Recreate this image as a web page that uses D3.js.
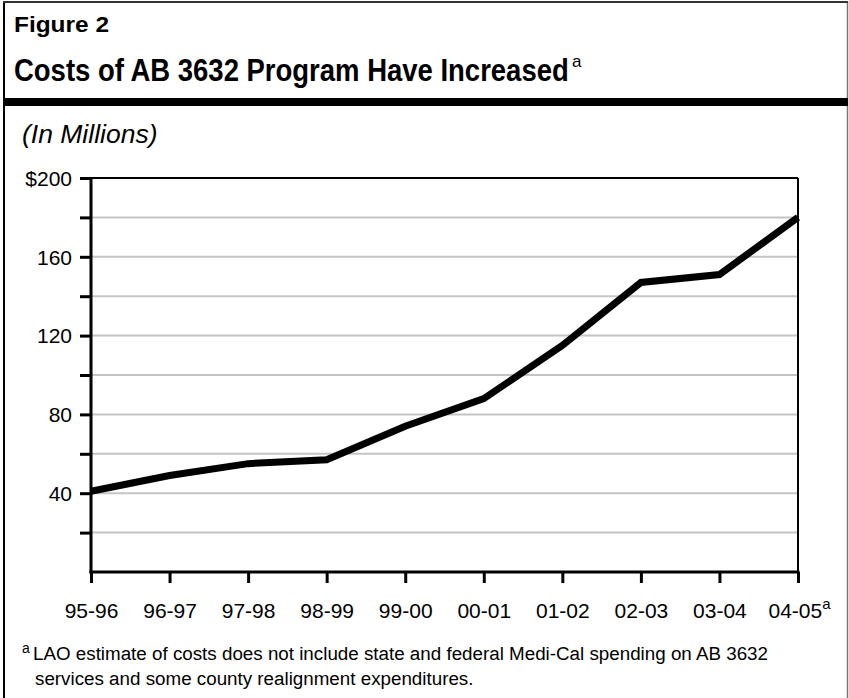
<!DOCTYPE html>
<html><head><meta charset="utf-8">
<script src="https://cdn.jsdelivr.net/npm/d3@7"></script>
<style>body{margin:0;background:#fff}svg{display:block}text{font-family:"Liberation Sans",Arial,Helvetica,sans-serif}</style>
</head><body>
<script>
const categories = ["95-96","96-97","97-98","98-99","99-00","00-01","01-02","02-03","03-04","04-05"];
const costs = [41, 49, 55, 57, 74, 88, 115, 147, 151, 180];
const yLabelTicks = [40, 80, 120, 160, 200];
const yAllTicks = [20, 40, 60, 80, 100, 120, 140, 160, 180, 200];
const gridTicks = [20, 40, 60, 80, 100, 120, 140, 160, 180];

const W = 849, H = 698;
const FONT = "Liberation Sans, Arial, sans-serif";
const svg = d3.select("body").append("svg").attr("width", W).attr("height", H);

// frame
svg.append("line").attr("x1",4).attr("x2",4).attr("y1",1).attr("y2",H).attr("stroke","#000").attr("stroke-width",2);
svg.append("line").attr("x1",847.5).attr("x2",847.5).attr("y1",1).attr("y2",H).attr("stroke","#777").attr("stroke-width",1.5);
svg.append("line").attr("x1",3).attr("x2",848).attr("y1",2).attr("y2",2).attr("stroke","#333").attr("stroke-width",2);
svg.append("rect").attr("x",3).attr("y",98).attr("width",845).attr("height",8).attr("fill","#000");

function fitText(txt, x0, y0, size, targetW) {
  const el = svg.append("text").attr("font-size", size).attr("font-weight","bold").text(txt);
  const w = el.node().getComputedTextLength();
  el.attr("transform", `translate(${x0},${y0}) scale(${targetW / w},1)`);
  return el;
}
fitText("Figure 2", 14, 32, 22, 95);
fitText("Costs of AB 3632 Program Have Increased", 14, 81, 32, 555);
svg.append("text").attr("x",572).attr("y",67).attr("font-size",17).text("a");

svg.append("text").attr("x",22).attr("y",143).attr("font-size",26.5).attr("font-style","italic").text("(In Millions)");

const x = d3.scalePoint().domain(categories).range([91, 798]);
const y = d3.scaleLinear().domain([0, 200]).range([572, 178]);

// gridlines
svg.append("g").selectAll("line").data(gridTicks).join("line")
  .attr("x1", 91).attr("x2", 798).attr("y1", d => y(d)).attr("y2", d => y(d))
  .attr("stroke", "#c4c4c4").attr("stroke-width", 2);

// plot frame top/right
svg.append("line").attr("x1",91).attr("x2",798).attr("y1",y(200)).attr("y2",y(200)).attr("stroke","#000").attr("stroke-width",2);
svg.append("line").attr("x1",798).attr("x2",798).attr("y1",y(200)).attr("y2",y(0)).attr("stroke","#000").attr("stroke-width",2);

// y axis
const yAxis = d3.axisLeft(y).tickValues(yAllTicks).tickSize(11)
  .tickFormat(d => yLabelTicks.includes(d) ? (d === 200 ? "$200" : String(d)) : "");
const gy = svg.append("g").attr("transform","translate(91,0)").call(yAxis);
gy.select(".domain").attr("stroke-width",3).attr("d", `M0,${y(200)-1}V${y(0)+1.5}`);
gy.selectAll(".tick line").attr("stroke-width",3);
gy.selectAll(".tick text").attr("font-size",21).attr("font-family",FONT).attr("fill","#000").attr("x",-19).attr("dy","0.35em");

// x axis
const xAxis = d3.axisBottom(x).tickSize(11).tickFormat(d => d);
const gx = svg.append("g").attr("transform",`translate(0,${y(0)})`).call(xAxis);
gx.select(".domain").attr("stroke-width",3).attr("d", `M89.5,0H799.5`);
gx.selectAll(".tick line").attr("stroke-width",3);
gx.selectAll(".tick text").attr("font-size",21).attr("font-family",FONT).attr("fill","#000").attr("y",46).attr("dy",0)
  .each(function(d){ if (d === "04-05") { d3.select(this).attr("text-anchor","start").attr("x",-30); d3.select(this).append("tspan").attr("font-size",15).attr("dy",-9).text("a"); } });

// line
const line = d3.line().x((d,i) => x(categories[i])).y(d => y(d));
svg.append("path").datum(costs).attr("d", line).attr("fill","none").attr("stroke","#000").attr("stroke-width",7).attr("stroke-linejoin","miter");

// footnote
svg.append("text").attr("x",22).attr("y",653).attr("font-size",14).text("a");
svg.append("text").attr("x",33).attr("y",660).attr("font-size",18.8)
  .text("LAO estimate of costs does not include state and federal Medi-Cal spending on AB 3632");
svg.append("text").attr("x",35).attr("y",685).attr("font-size",18.8).text("services and some county realignment expenditures.");
</script>
</body></html>
